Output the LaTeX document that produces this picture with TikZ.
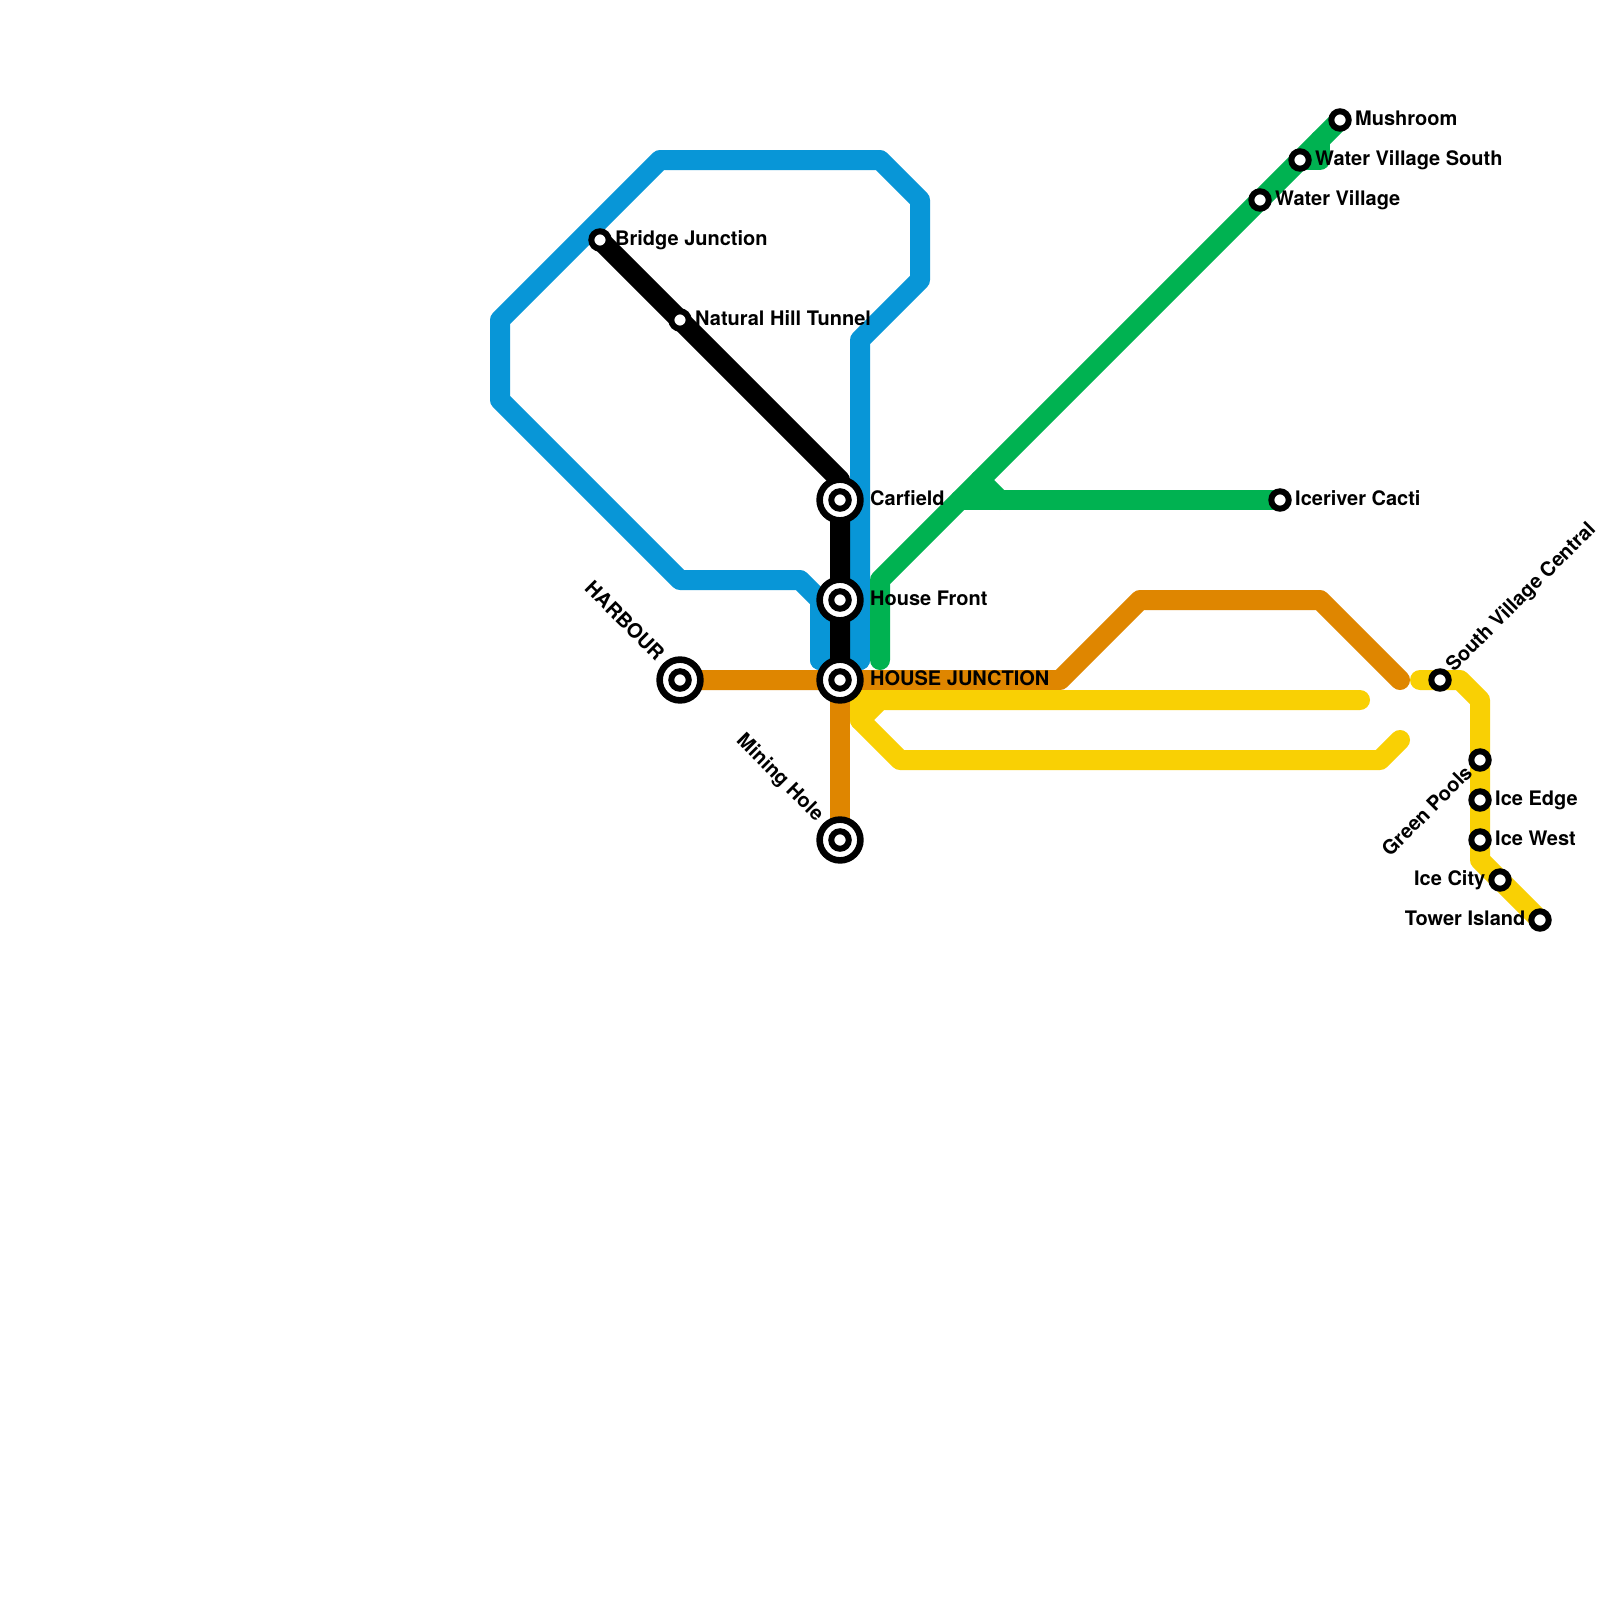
\documentclass[tikz,border=0pt]{standalone}
\usepackage{fontspec}
\setmainfont{TeX Gyre Heros}
\usetikzlibrary{backgrounds}
\definecolor{lblue}{HTML}{0896D7}
\definecolor{lgreen}{HTML}{00B251}
\definecolor{lorange}{HTML}{DF8600}
\definecolor{lyellow}{HTML}{F9D004}
\tikzset{
  line/.style={line width=20pt,line cap=round,line join=round},
  bigstation/.style={circle,draw=black,fill=white,line width=6.6pt,minimum size=40.8pt,inner sep=0pt},
  bigcore/.style={circle,draw=black,fill=white,line width=6pt,minimum size=17.5pt,inner sep=0pt},
  smallstation/.style={circle,draw=black,fill=white,line width=6pt,minimum size=17.4pt,inner sep=0pt},
  lab/.style={inner sep=0pt,font=\fontsize{20}{22}\selectfont\bfseries,text=black},
  labl/.style={lab,anchor=base west},
  labr/.style={lab,anchor=base east},
}
\begin{document}
\begin{tikzpicture}[x=1pt,y=-1pt]
\useasboundingbox (0,0) rectangle (1600,1600);
% stations
\node[bigstation] (carfield) at (840,500) {};
\node[bigcore] (carfieldc) at (carfield.center) {};
\node[bigstation] (housefront) at (840,600) {};
\node[bigcore] (housefrontc) at (housefront.center) {};
\node[bigstation] (junction) at (840,680) {};
\node[bigcore] (junctionc) at (junction.center) {};
\node[bigstation] (mining) at (840,840) {};
\node[bigcore] (miningc) at (mining.center) {};
\node[bigstation] (harbour) at (680,680) {};
\node[bigcore] (harbourc) at (harbour.center) {};
\node[smallstation] (bridge) at (600,240) {};
\node[smallstation] (hill) at (680,320) {};
\node[smallstation] (mushroom) at (1340,120) {};
\node[smallstation] (wvs) at (1300,160) {};
\node[smallstation] (wv) at (1260,200) {};
\node[smallstation] (cacti) at (1280,500) {};
\node[smallstation] (svc) at (1440,680) {};
\node[smallstation] (pools) at (1480,760) {};
\node[smallstation] (edge) at (1480,800) {};
\node[smallstation] (west) at (1480,840) {};
\node[smallstation] (city) at (1500,880) {};
\node[smallstation] (tower) at (1540,920) {};
% labels
\node[labl] (tcarfield) at (870,505) {Carfield};
\node[labl] (thousefront) at (870,605) {House Front};
\node[labl] (tjunction) at (870,685) {HOUSE JUNCTION};
\node[labr,rotate=-45] (tharbour) at (656,662) {HARBOUR};
\node[labr,rotate=-45] (tmining) at (816,822) {Mining Hole};
\node[labl] (tbridge) at (615,245) {Bridge Junction};
\node[labl] (thill) at (695,325) {Natural Hill Tunnel};
\node[labl] (tmushroom) at (1355,125.5) {Mushroom};
\node[labl] (twvs) at (1315,165.5) {Water Village South};
\node[labl] (twv) at (1275,205) {Water Village};
\node[labl] (tcacti) at (1295,505) {Iceriver Cacti};
\node[labl,rotate=45] (tsvc) at (1454,673) {South Village Central};
\node[labr,rotate=45] (tpools) at (1473.5,774) {Green Pools};
\node[labl] (tedge) at (1495,805) {Ice Edge};
\node[labl] (twest) at (1495,845) {Ice West};
\node[labr] (tcity) at (1485.5,885) {Ice City};
\node[labr] (ttower) at (1525.5,925) {Tower Island};
% waypoints
\coordinate (b0) at (860,660);
\coordinate (b1) at (860,340);
\coordinate (b2) at (920,280);
\coordinate (b3) at (920,200);
\coordinate (b4) at (880,160);
\coordinate (b5) at (660,160);
\coordinate (b6) at (500,320);
\coordinate (b7) at (500,400);
\coordinate (b8) at (680,580);
\coordinate (b9) at (800,580);
\coordinate (b10) at (820,600);
\coordinate (b11) at (820,660);
\coordinate (k1) at (840,480);
\coordinate (g0) at (880,660);
\coordinate (g1) at (880,580);
\coordinate (g2) at (960,500);
\coordinate (g3) at (1320,160);
\coordinate (g4) at (1320,140);
\coordinate (g5) at (1000,500);
\coordinate (g6) at (980,480);
\coordinate (o1) at (1060,680);
\coordinate (o2) at (1140,600);
\coordinate (o3) at (1320,600);
\coordinate (o4) at (1400,680);
\coordinate (y0) at (1360,700);
\coordinate (y1) at (880,700);
\coordinate (y2) at (860,700);
\coordinate (y3) at (860,720);
\coordinate (y4) at (900,760);
\coordinate (y5) at (1380,760);
\coordinate (y6) at (1400,740);
\coordinate (y7) at (1420,680);
\coordinate (y8) at (1460,680);
\coordinate (y9) at (1480,700);
\coordinate (y10) at (1480,860);
\begin{pgfonlayer}{background}
\fill[white] (0,0) rectangle (1600,1600);
\draw[line,lblue] (b0) -- (b1) -- (b2) -- (b3) -- (b4) -- (b5) -- (b6) -- (b7) -- (b8) -- (b9) -- (b10) -- (b11);
\draw[line,lblue] (b0) -- (b11);
\draw[line,lorange] (harbour.center) -- (junction.center) -- (o1) -- (o2) -- (o3) -- (o4);
\draw[line,lorange] (junction.center) -- (mining.center);
\draw[line,black] (bridge.center) -- (hill.center) -- (k1) -- (carfield.center) -- (housefront.center) -- (junction.center);
\draw[line,lgreen] (g0) -- (g1) -- (g2) -- (wv.center) -- (wvs.center) -- (mushroom.center);
\draw[line,lgreen] (wvs.center) -- (g3) -- (g4);
\draw[line,lgreen] (g2) -- (cacti.center);
\draw[line,lgreen] (g5) -- (g6);
\draw[line,lyellow] (y0) -- (y1) -- (y3) -- (y4) -- (y5) -- (y6);
\draw[line,lyellow] (y2) -- (y1);
\draw[line,lyellow] (y2) -- (y3);
\draw[line,lyellow] (y7) -- (svc.center) -- (y8) -- (y9) -- (pools.center) -- (edge.center) -- (west.center) -- (y10) -- (city.center) -- (tower.center);
\end{pgfonlayer}
\end{tikzpicture}
\end{document}
